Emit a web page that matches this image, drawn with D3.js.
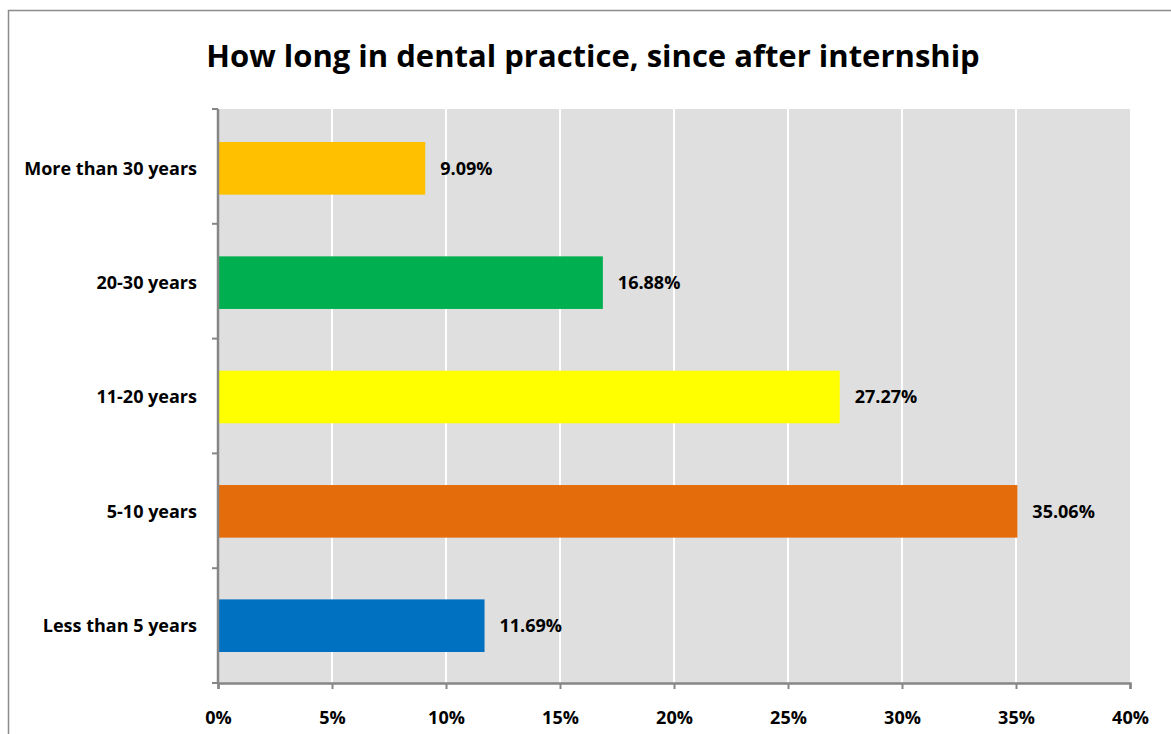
<!DOCTYPE html>
<html>
<head>
<meta charset="utf-8">
<script src="https://cdn.jsdelivr.net/npm/d3@7"></script>
<style>
  html, body { margin: 0; padding: 0; background: #fff; }
  svg { display: block; }
  text { font-family: "Open Sans", Lato, "Liberation Sans", sans-serif; font-weight: bold; fill: #000; }
</style>
</head>
<body>
<svg id="chart" width="1171" height="734"></svg>
<script>
const title = "How long in dental practice, since after internship";
const categories = ["Less than 5 years", "5-10 years", "11-20 years", "20-30 years", "More than 30 years"];
const values = [11.69, 35.06, 27.27, 16.88, 9.09];
const colors = ["#0070C0", "#E46C0A", "#FFFF00", "#00B050", "#FFC000"];
const xTicks = [0, 5, 10, 15, 20, 25, 30, 35, 40];

const svg = d3.select("#chart");
const W = 1171, H = 734;
const plot = { left: 218, right: 1130, top: 109, bottom: 683 };

// outer chart frame
svg.append("rect")
  .attr("x", 8.5).attr("y", 10.5)
  .attr("width", W + 20).attr("height", H + 20)
  .attr("fill", "none").attr("stroke", "#8c8c8c").attr("stroke-width", 1.5);

// title
svg.append("text")
  .attr("x", 593).attr("y", 67)
  .attr("text-anchor", "middle")
  .style("font-size", "31px")
  .text(title);

const x = d3.scaleLinear().domain([0, 40]).range([plot.left, plot.right]);
const y = d3.scaleBand()
  .domain(categories.slice().reverse())
  .range([plot.top, plot.bottom])
  .paddingInner(0.54).paddingOuter(0.28);

// plot background
svg.append("rect")
  .attr("x", plot.left).attr("y", plot.top)
  .attr("width", plot.right - plot.left).attr("height", plot.bottom - plot.top)
  .attr("fill", "#DFDFDF");

// gridlines
svg.append("g").selectAll("line")
  .data(xTicks.filter(t => t > 0 && t < 40))
  .join("line")
  .attr("x1", d => x(d)).attr("x2", d => x(d))
  .attr("y1", plot.top).attr("y2", plot.bottom)
  .attr("stroke", "#ffffff").attr("stroke-width", 2);

// bars
svg.append("g").selectAll("rect")
  .data(categories)
  .join("rect")
  .attr("x", x(0))
  .attr("y", d => y(d) + 1)
  .attr("width", (d, i) => x(values[i]) - x(0))
  .attr("height", y.bandwidth())
  .attr("fill", (d, i) => colors[i]);

// value labels
svg.append("g").selectAll("text")
  .data(categories)
  .join("text")
  .attr("x", (d, i) => x(values[i]) + 15)
  .attr("y", d => y(d) + y.bandwidth() / 2 + 1)
  .attr("dy", "0.35em")
  .style("font-size", "18px")
  .text((d, i) => values[i].toFixed(2) + "%");

// x axis
const xAxis = d3.axisBottom(x)
  .tickValues(xTicks)
  .tickFormat(d => d + "%")
  .tickSize(6).tickSizeOuter(6);
const gx = svg.append("g")
  .attr("transform", `translate(0,${plot.bottom})`)
  .call(xAxis);
gx.select(".domain").attr("stroke", "#868686").attr("stroke-width", 2.5);
gx.selectAll(".tick line").attr("stroke", "#868686").attr("stroke-width", 2);
gx.selectAll(".tick text")
  .attr("y", 0).attr("dy", null)
  .attr("transform", "translate(0,41)")
  .style("font-size", "18px")
  .style("font-family", "'Open Sans', Lato, sans-serif")
  .style("font-weight", "bold")
  .attr("fill", "#000");

// y axis (ticks at band boundaries)
const yEdge = d3.scaleLinear().domain([0, categories.length]).range([plot.top, plot.bottom]);
const gy = svg.append("g");
gy.append("line")
  .attr("x1", plot.left).attr("x2", plot.left)
  .attr("y1", plot.top).attr("y2", plot.bottom)
  .attr("stroke", "#868686").attr("stroke-width", 2.5);
gy.selectAll("line.tk")
  .data(d3.range(categories.length + 1))
  .join("line").attr("class", "tk")
  .attr("x1", plot.left - 6).attr("x2", plot.left)
  .attr("y1", d => yEdge(d)).attr("y2", d => yEdge(d))
  .attr("stroke", "#868686").attr("stroke-width", 2);
gy.selectAll("text")
  .data(categories)
  .join("text")
  .attr("x", 197)
  .attr("y", d => y(d) + y.bandwidth() / 2 + 1)
  .attr("dy", "0.35em")
  .attr("text-anchor", "end")
  .style("font-size", "18px")
  .text(d => d);
</script>
</body>
</html>
